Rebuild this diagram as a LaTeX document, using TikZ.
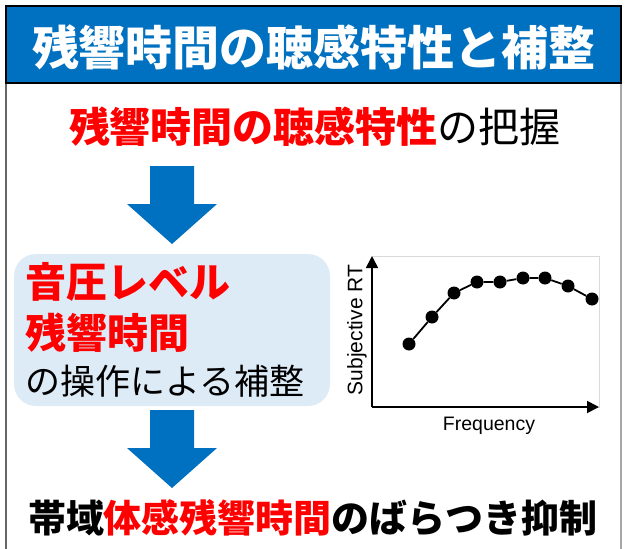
\documentclass[tikz,border=0pt]{standalone}
\usepackage{fontspec}
\setmainfont{Liberation Sans}
\newfontfamily\jp{Noto Sans CJK JP}
\usetikzlibrary{arrows.meta}
\definecolor{tblue}{HTML}{0070C0}
\definecolor{tred}{HTML}{FF0000}
\definecolor{boxblue}{HTML}{DDEBF7}
\tikzset{
  blockarrow/.pic={\fill[tblue] (-22,0) -- (22,0) -- (22,38) -- (45,38) -- (0,78) -- (-45,38) -- (-22,38) -- cycle;},
  axis/.style={line width=1.8pt,-{Triangle[length=12pt,width=12pt]}},
  dot/.style={circle,fill=black,inner sep=0pt,minimum size=13pt},
  jptext/.style={inner sep=0pt,font=\jp},
}
\begin{document}
\begin{tikzpicture}[x=1pt,y=-1pt]
\useasboundingbox (0,0) rectangle (625,549);
% frame
\draw[gray!80!black,line width=1.5pt] (6,83) -- (6,549);
\draw[gray!70,line width=1.2pt] (621,83) -- (621,549);
\draw[line width=2pt,fill=tblue] (6,6) rectangle (621,83);
\node[jptext,text=white,font=\jp\bfseries\fontsize{47}{50}\selectfont] (title) at (314,47) {残響時間の聴感特性と補整};
% line 2
\node[jptext,font=\jp\fontsize{41}{44}\selectfont] (grasp) at (315,127) {{\color{tred}\bfseries 残響時間の聴感特性}の把握};
% arrow 1
\pic at (172,166) {blockarrow};
% box
\node[fill=boxblue,rounded corners=22pt,minimum width=316pt,minimum height=152pt,inner sep=0pt] (box) at (172,330) {};
\node[jptext,anchor=west,text=tred,font=\jp\bfseries\fontsize{41}{44}\selectfont] (l1) at (25,282) {音圧レベル};
\node[jptext,anchor=west,text=tred,font=\jp\bfseries\fontsize{41}{44}\selectfont] (l2) at (25,333) {残響時間};
\node[jptext,anchor=west,font=\jp\fontsize{35}{38}\selectfont] (l3) at (25,381) {の操作による補整};
% arrow 2
\pic at (172,410) {blockarrow};
% bottom
\node[jptext,font=\jp\bfseries\fontsize{38}{41}\selectfont] (result) at (313,518) {帯域{\color{tred}体感残響時間}のばらつき抑制};
% graph
\draw[gray!30,line width=1pt] (372,256) rectangle (599,407);
\coordinate (o) at (372,407);
\coordinate (ytip) at (372,256);
\coordinate (xtip) at (599,407);
\draw[axis] (o) -- (ytip);
\draw[axis] (o) -- (xtip);
\node[font=\fontsize{21}{23}\selectfont,rotate=90,inner sep=0pt] (ylab) at (357,330) {Subjective RT};
\node[font=\fontsize{19.5}{21}\selectfont,inner sep=0pt] (xlab) at (489,426) {Frequency};
\foreach \i/\x/\y in {1/409/344,2/432/317,3/454/293,4/477/282,5/500/282,6/523/278,7/545/278,8/568/286,9/592/299}{
  \node[dot] (p\i) at (\x,\y) {};
}
\draw[line width=1.8pt] (p1) -- (p2) -- (p3) -- (p4) -- (p5) -- (p6) -- (p7) -- (p8) -- (p9);
\end{tikzpicture}
\end{document}
